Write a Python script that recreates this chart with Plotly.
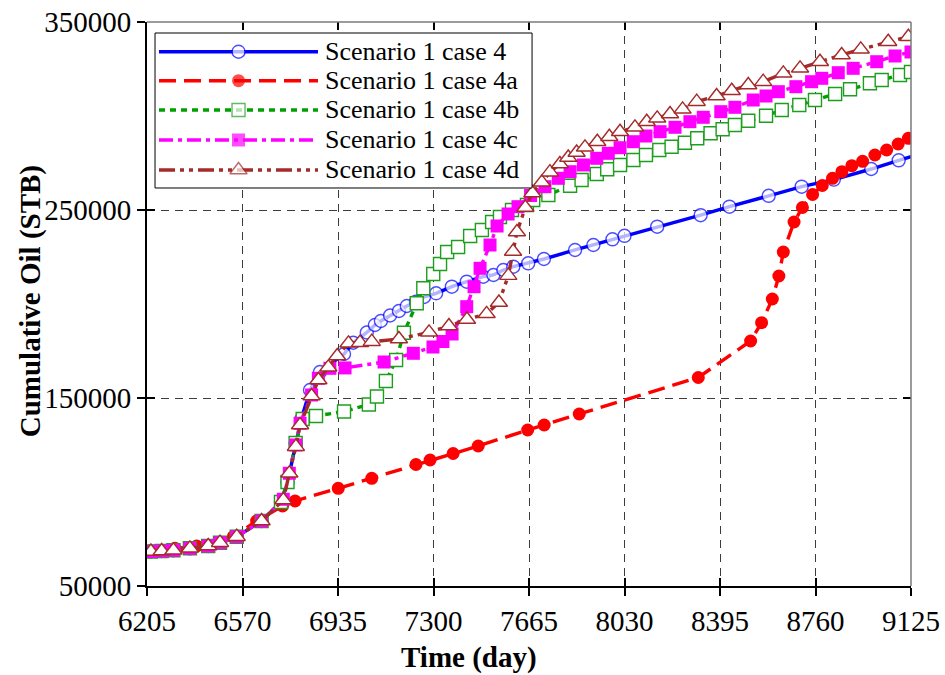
import plotly.graph_objects as go

FONT = "Liberation Serif"

# ---------------- data ----------------
names = ["Scenario 1 case 4", "Scenario 1 case 4a", "Scenario 1 case 4b",
         "Scenario 1 case 4c", "Scenario 1 case 4d"]

x_tickvals = [6205, 6570, 6935, 7300, 7665, 8030, 8395, 8760, 9125]
x_ticktext = ["6205", "6570", "6935", "7300", "7665", "8030", "8395", "8760", "9125"]
y_tickvals = [50000, 150000, 250000, 350000]
y_ticktext = ["50000", "150000", "250000", "350000"]

days_4 = [6220, 6261, 6306, 6369, 6439, 6484, 6548, 6643, 6717, 6742, 6773, 6795, 6828, 6866,
          6958, 6993, 7045, 7076, 7099, 7134, 7168, 7198, 7233, 7264, 7310, 7370, 7427, 7490,
          7529, 7567, 7605, 7662, 7722, 7841, 7911, 7984, 8030, 8155, 8321, 8431, 8581, 8707,
          8830, 8973, 9078, 9125]
oil_4 = [68360, 68630, 69000, 70060, 71290, 73040, 76230, 84580, 94690, 105330, 126070, 138840,
         154260, 163840, 173410, 179420, 184850, 188830, 190960, 193890, 196280, 198940, 201230,
         203730, 205700, 209210, 211870, 214530, 215430, 218090, 219840, 221650, 223940, 228730,
         231390, 234420, 236280, 241120, 247240, 251760, 257560, 262400, 266170, 271810, 276440,
         278350]

days_4a = [6220, 6312, 6395, 6535, 6624, 6723, 6771, 6936, 7064, 7233, 7287, 7375, 7471, 7660,
           7723, 7857, 8312, 8512, 8554, 8595, 8620, 8637, 8678, 8710, 8749, 8786, 8825, 8861,
           8899, 8940, 8987, 9032, 9076, 9115]
oil_4a = [68360, 70060, 71280, 76230, 84580, 92560, 95220, 101975, 107300, 114630, 117030, 120490,
          124470, 132990, 135640, 141500, 160910, 180320, 190060, 202660, 214900, 227660, 243620,
          251330, 258250, 263030, 266860, 270375, 273570, 275900, 279260, 281920, 285110, 288140]

days_4b = [6220, 6261, 6306, 6369, 6439, 6484, 6548, 6643, 6717, 6742, 6773, 6800, 6851, 6958,
           7053, 7084, 7118, 7157, 7187, 7236, 7261, 7299, 7325, 7352, 7394, 7440, 7485, 7524,
           7554, 7600, 7657, 7681, 7739, 7822, 7866, 7924, 7964, 8013, 8064, 8112, 8163, 8210,
           8261, 8308, 8359, 8405, 8452, 8503, 8571, 8631, 8698, 8758, 8835, 8892, 8968, 9013,
           9083, 9125]
oil_4b = [68360, 68630, 69000, 70060, 71290, 73040, 76230, 84580, 94690, 105330, 126070, 138840,
          140430, 142820, 146550, 150800, 159050, 170220, 184740, 200380, 208360, 215960, 221280,
          227660, 230320, 236170, 239365, 243620, 246280, 250000, 252660, 255320, 257980, 262930,
          265960, 269150, 271650, 273940, 276600, 279260, 281920, 283670, 285800, 288140, 290800,
          292930, 295210, 297500, 300160, 303190, 305850, 308510, 311700, 314200, 317390, 319150,
          321810, 323400]

days_4c = [6220, 6261, 6306, 6369, 6439, 6484, 6548, 6643, 6726, 6749, 6774, 6790, 6834, 6860,
           6904, 6962, 7111, 7223, 7298, 7336, 7371, 7427, 7455, 7478, 7516, 7543, 7585, 7623,
           7671, 7726, 7777, 7822, 7873, 7924, 7968, 8013, 8064, 8112, 8166, 8223, 8280, 8331,
           8398, 8452, 8522, 8571, 8618, 8685, 8745, 8784, 8847, 8904, 8994, 9064, 9125]
oil_4c = [68360, 68630, 69000, 70060, 71290, 73040, 76230, 84580, 96120, 109950, 125010, 136550,
          151600, 160480, 165800, 166000, 169150, 173780, 177130, 180060, 184050, 198570, 209210,
          218990, 231390, 241490, 247880, 251760, 257720, 262400, 266860, 270375, 273940, 277500,
          280160, 283140, 286330, 289360, 291650, 293990, 296970, 299310, 302290, 304630, 308510,
          310640, 312930, 315590, 318250, 320050, 323030, 325370, 328880, 331920, 334040]

days_4d = [6220, 6261, 6306, 6369, 6439, 6484, 6548, 6643, 6726, 6749, 6774, 6790, 6834, 6860,
           6898, 6932, 6975, 7019, 7064, 7168, 7283, 7359, 7428, 7503, 7550, 7586, 7604, 7619,
           7651, 7678, 7714, 7745, 7783, 7815, 7847, 7879, 7926, 7972, 8013, 8070, 8115, 8155,
           8204, 8252, 8306, 8382, 8440, 8503, 8560, 8637, 8701, 8777, 8860, 8933, 9038, 9115]
oil_4d = [68360, 68630, 69000, 70060, 71290, 73040, 76230, 84580, 95750, 109950, 124100, 135640,
          151070, 159580, 166340, 172350, 179100, 179420, 179950, 181390, 184950, 188300, 191760,
          194790, 200800, 215100, 227930, 238300, 251330, 259045, 264740, 270110, 274470, 277930,
          280590, 283350, 286330, 288990, 291650, 293990, 296970, 298780, 301070, 303560, 307610,
          310640, 313460, 316490, 318250, 322710, 325370, 328880, 332450, 335480, 339520, 342180]

# ---------------- styles ----------------
styles = [
    dict(line=dict(color="#0000FF", width=3.4, dash="solid"),
         marker=dict(symbol="circle", size=13, color="white", line=dict(color="#0000FF", width=1.4))),
    dict(line=dict(color="#FF0000", width=3.4, dash="17px,8px"),
         marker=dict(symbol="circle", size=13, color="#FF0000", line=dict(color="#FF0000", width=0))),
    dict(line=dict(color="#00A000", width=3.4, dash="6px,5px"),
         marker=dict(symbol="square", size=13, color="white", line=dict(color="#1E9E1E", width=1.4))),
    dict(line=dict(color="#FF00FF", width=3.4, dash="14px,5px,4px,5px"),
         marker=dict(symbol="square", size=13, color="#FF00FF", line=dict(color="#FF00FF", width=0))),
    dict(line=dict(color="#A52A2A", width=3.4, dash="16px,5px,4px,5px,4px,5px"),
         marker=dict(symbol="triangle-up", size=15, color="white", line=dict(color="#A52A2A", width=1.4))),
]

data = [(days_4, oil_4), (days_4a, oil_4a), (days_4b, oil_4b), (days_4c, oil_4c), (days_4d, oil_4d)]

fig = go.Figure()
for i, ((xs, ys), st) in enumerate(zip(data, styles)):
    mk = dict(st["marker"])
    if i == 0:
        mk["size"] = [st["marker"]["size"]] * (len(xs) - 1) + [0]
    fig.add_trace(go.Scatter(x=xs, y=ys, mode="lines+markers", name=names[i],
                             line=st["line"], marker=mk, showlegend=False))

# dummy trace for inner (crossing) ticks axis
fig.add_trace(go.Scatter(x=[6205], y=[50000], xaxis="x3", yaxis="y3", mode="markers",
                         marker=dict(opacity=0), showlegend=False, hoverinfo="skip"))

# ---------------- custom legend (overlay axes 0..1) ----------------
bx0, bx1, by0, by1 = 0.0105, 0.504, 0.7057, 0.9805
fig.add_trace(go.Scatter(x=[bx0, bx1, bx1, bx0, bx0], y=[by1, by1, by0, by0, by1],
                         xaxis="x2", yaxis="y2", mode="lines", fill="toself",
                         fillcolor="white", line=dict(color="black", width=1),
                         showlegend=False, hoverinfo="skip"))
rows = [0.9473, 0.8959, 0.8440, 0.7908, 0.7376]
for i, st in enumerate(styles):
    mk = dict(st["marker"])
    mk["size"] = [0, st["marker"]["size"], 0]
    fig.add_trace(go.Scatter(x=[0.0157, 0.1198, 0.2238], y=[rows[i]] * 3, xaxis="x2", yaxis="y2",
                             mode="lines+markers", line=st["line"], marker=mk,
                             showlegend=False, hoverinfo="skip"))
    fig.add_annotation(x=0.2304, y=rows[i], xref="paper", yref="paper", text=names[i],
                       showarrow=False, xanchor="left", yanchor="middle",
                       font=dict(family=FONT, size=26, color="black"))

# axis titles
fig.add_annotation(x=0.4215, y=-0.126, xref="paper", yref="paper", text="<b>Time (day)</b>",
                   showarrow=False, xanchor="center", yanchor="middle",
                   font=dict(family=FONT, size=29, color="black"))
fig.add_annotation(x=-0.153, y=0.505, xref="paper", yref="paper",
                   text="<b>Cumulative Oil (STB)</b>", textangle=-90,
                   showarrow=False, xanchor="center", yanchor="middle",
                   font=dict(family=FONT, size=29, color="black"))

# top/right frame
fig.add_shape(type="line", xref="paper", yref="paper", x0=0, x1=1, y0=1, y1=1,
              line=dict(color="#7a7a7a", width=1.5), layer="above")
fig.add_shape(type="line", xref="paper", yref="paper", x0=1, x1=1, y0=0, y1=1,
              line=dict(color="#7a7a7a", width=1.5), layer="above")

grid = dict(showgrid=True, gridcolor="#3c3c3c", gridwidth=1.2, griddash="8px,6px")
fig.update_layout(
    width=945, height=675,
    margin=dict(l=147, r=34, t=22, b=89, autoexpand=False),
    paper_bgcolor="white", plot_bgcolor="white",
    font=dict(family=FONT, color="black"),
    xaxis=dict(range=[6205, 9125], tickmode="array", tickvals=x_tickvals, ticktext=x_ticktext,
               ticks="outside", ticklen=8, tickwidth=1.5, tickcolor="black", automargin=False,
               showline=True, linecolor="black", linewidth=2, zeroline=False,
               tickfont=dict(family=FONT, size=29, color="black"), **grid),
    yaxis=dict(range=[50000, 350000], tickmode="array", tickvals=y_tickvals, ticktext=y_ticktext,
               ticks="outside", ticklen=8, tickwidth=1.5, tickcolor="black", automargin=False,
               showline=True, linecolor="black", linewidth=2, zeroline=False,
               tickfont=dict(family=FONT, size=29, color="black"), **grid),
    xaxis2=dict(overlaying="x", anchor="y2", range=[0, 1], visible=False, fixedrange=True,
                automargin=False),
    yaxis2=dict(overlaying="y", anchor="x2", range=[0, 1], visible=False, fixedrange=True,
                automargin=False),
    xaxis3=dict(overlaying="x", anchor="y3", range=[6205, 9125], tickmode="array",
                tickvals=x_tickvals, showticklabels=False, ticks="inside", ticklen=8,
                tickwidth=1.5, tickcolor="black", mirror="ticks", showline=False,
                showgrid=False, zeroline=False, automargin=False),
    yaxis3=dict(overlaying="y", anchor="x3", range=[50000, 350000], tickmode="array",
                tickvals=y_tickvals, showticklabels=False, ticks="inside", ticklen=8,
                tickwidth=1.5, tickcolor="black", mirror="ticks", showline=False,
                showgrid=False, zeroline=False, automargin=False),
)

fig.write_html("out.html")
